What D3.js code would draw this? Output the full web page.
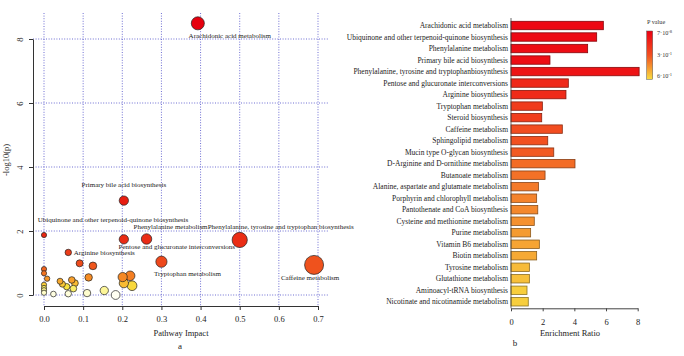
<!DOCTYPE html>
<html><head><meta charset="utf-8">
<script src="https://cdn.jsdelivr.net/npm/d3@7"></script>
<style>body{margin:0;background:#fff;}svg{display:block;font-family:"Liberation Serif","Times New Roman",serif;}</style>
</head><body><svg id="c" width="684" height="356"></svg>
<script>
// ---------- Panel a: pathway impact scatter ----------
const pathNames = ["Arachidonic acid metabolism","Primary bile acid biosynthesis","Ubiquinone and other terpenoid-quinone biosynthesis","Phenylalanine metabolism","Pentose and glucuronate interconversions","Phenylalanine, tyrosine and tryptophan biosynthesis","Arginine biosynthesis","Tryptophan metabolism","Caffeine metabolism",
 "","","","","","","","","","","","","","","","","","","","","","","","",""];
const pathImpact = [0.393,0.204,0.0,0.262,0.204,0.5,0.062,0.3,0.69,
 0.091,0.125,0.114,0.0,0.0,0.008,0.041,0.047,0.071,0.079,0.058,0.075,0.062,0.024,0.110,0.154,0.183,0.201,0.220,0.204,0.225,0.0,0.0,0.0,0.0];
const negLogP = [8.49,2.95,1.875,1.75,1.74,1.72,1.33,1.04,0.94,
 0.99,0.91,0.55,0.81,0.68,0.51,0.43,0.34,0.47,0.37,0.26,0.20,0.04,0.03,0.06,0.14,0.0,0.56,0.60,0.37,0.29,0.32,0.22,0.15,0.07];
const xTicksA = [0,0.1,0.2,0.3,0.4,0.5,0.6,0.7];
const yTicksA = [0,2,4,6,8];
// label offsets (layout) for labelled points
const labelOffsets = [[32,12.7],[0,-15.7],[69,-15],[24,-12.3],[53,7.4],[41,-13.3],[36,1],[26,12.3],[-4,13.3]];

// ---------- Panel b: enrichment bars ----------
const setNames = ["Arachidonic acid metabolism","Ubiquinone and other terpenoid-quinone biosynthesis","Phenylalanine metabolism","Primary bile acid biosynthesis","Phenylalanine, tyrosine and tryptophanbiosynthesis","Pentose and glucuronate interconversions","Arginine biosynthesis","Tryptophan metabolism","Steroid biosynthesis","Caffeine metabolism","Sphingolipid metabolism","Mucin type O-glycan biosynthesis","D-Arginine and D-ornithine metabolism","Butanoate metabolism","Alanine, aspartate and glutamate metabolism","Porphyrin and chlorophyll metabolism","Pantothenate and CoA biosynthesis","Cysteine and methionine metabolism","Purine metabolism","Vitamin B6 metabolism","Biotin metabolism","Tyrosine metabolism","Glutathione metabolism","Aminoacyl-tRNA biosynthesis","Nicotinate and nicotinamide metabolism"];
const enrichRatio = [5.83,5.41,4.84,2.46,8.09,3.62,3.47,1.98,1.94,3.24,2.32,2.70,4.04,2.15,1.73,1.62,1.69,1.47,1.24,1.79,1.62,1.16,1.16,1.01,1.09];
const pValue = [0.03,0.035,0.045,0.05,0.07,0.15,0.16,0.22,0.23,0.29,0.30,0.32,0.36,0.37,0.39,0.41,0.42,0.44,0.46,0.48,0.49,0.53,0.54,0.57,0.57];
const xTicksB = [0,2,4,6,8];

const svg = d3.select("#c");

// ===== Panel a =====
const xA = d3.scaleLinear().domain([0,0.7]).range([44,318]);
const yA = d3.scaleLinear().domain([0,8]).range([295,39]);
const rA = d3.scaleLinear().domain([0,0.7]).range([2.6,9.6]);
const colA = d3.scaleLinear().domain([0,0.1,0.25,0.4,0.6,1.0,2.0,8.5])
  .range(["#FFFFF2","#FFFCB8","#F8E640","#F8B030","#F47E22","#EE4A1C","#E82212","#E6000E"]);
const plotL=33, plotR=329, plotT=13, plotB=306;

const grid = svg.append("g").attr("stroke","#4a4ac8").attr("stroke-width",0.8).attr("stroke-dasharray","1,1.6");
grid.selectAll("line.v").data(xTicksA).join("line").attr("class","v")
  .attr("x1",d=>xA(d)).attr("x2",d=>xA(d)).attr("y1",plotT).attr("y2",plotB);
grid.selectAll("line.h").data(yTicksA).join("line").attr("class","h")
  .attr("x1",plotL).attr("x2",plotR).attr("y1",d=>yA(d)).attr("y2",d=>yA(d));

const pts = pathImpact.map((x,i)=>({x, y:negLogP[i], name:pathNames[i], i}));
const ptsSorted = pts.slice().sort((a,b)=>b.x-a.x);
svg.append("g").selectAll("circle").data(ptsSorted).join("circle")
  .attr("cx",d=>xA(d.x)).attr("cy",d=>yA(d.y)).attr("r",d=>rA(d.x))
  .attr("fill",d=>colA(d.y)).attr("stroke","#222").attr("stroke-width",0.7);

svg.append("g").selectAll("text").data(pts.filter(d=>d.name)).join("text")
  .attr("x",d=>xA(d.x)+labelOffsets[d.i][0]).attr("y",d=>yA(d.y)+labelOffsets[d.i][1])
  .attr("text-anchor","middle").attr("dominant-baseline","central")
  .attr("font-size",7).attr("fill","#222").text(d=>d.name);

const axA = svg.append("g").attr("transform",`translate(${plotL},0)`)
  .call(d3.axisLeft(yA).tickValues(yTicksA).tickSize(4).tickSizeOuter(0));
axA.selectAll(".tick text").attr("x",null).attr("y",null).attr("dy",null)
  .attr("transform","translate(-10,0) rotate(-90)").attr("text-anchor","middle");
const bxA = svg.append("g").attr("transform",`translate(0,${plotB})`)
  .call(d3.axisBottom(xA).tickValues(xTicksA).tickFormat(d3.format(".1f")).tickSize(4).tickSizeOuter(0).tickPadding(6));
[axA,bxA].forEach(g=>{g.selectAll("text").attr("font-size",8.5).attr("font-family","Liberation Serif").attr("fill","#222");
  g.selectAll("path,line").attr("stroke","#333");});

svg.append("text").attr("x",181).attr("y",336).attr("text-anchor","middle").attr("font-size",8.5).attr("fill","#222").text("Pathway Impact");
svg.append("text").attr("transform","translate(9,160) rotate(-90)").attr("text-anchor","middle").attr("font-size",8.5).attr("fill","#222").text("-log10(p)");
svg.append("text").attr("x",180).attr("y",349).attr("text-anchor","middle").attr("font-size",9).attr("fill","#222").text("a");

// ===== Panel b =====
const xB = d3.scaleLinear().domain([0,8]).range([511,637.7]);
const yB = d3.scaleBand().domain(setNames).range([18.2,309.1]).padding(0.27);
const colB = d3.scaleLinear().domain([0,0.3,0.6]).range(["#EC0012","#F25020","#F8DC40"]);

svg.append("g").selectAll("rect").data(setNames).join("rect")
  .attr("x",xB(0)).attr("y",d=>yB(d)).attr("height",yB.bandwidth())
  .attr("width",(d,i)=>xB(enrichRatio[i])-xB(0))
  .attr("fill",(d,i)=>colB(pValue[i]))
  .attr("stroke",(d,i)=>d3.color(colB(pValue[i])).darker(1.6)).attr("stroke-width",0.8);

svg.append("g").selectAll("text").data(setNames).join("text")
  .attr("x",508).attr("y",d=>yB(d)+yB.bandwidth()/2).attr("text-anchor","end").attr("dominant-baseline","central")
  .attr("font-size",7.5).attr("fill","#222").text(d=>d);

svg.append("line").attr("x1",511).attr("x2",511).attr("y1",18).attr("y2",308.3).attr("stroke","#444").attr("stroke-width",0.8);
const bxB = svg.append("g").attr("transform","translate(0,308.3)")
  .call(d3.axisBottom(xB).tickValues(xTicksB).tickSize(3).tickSizeOuter(0).tickPadding(8));
bxB.selectAll("text").attr("font-size",8.5).attr("font-family","Liberation Serif").attr("fill","#222");
bxB.selectAll("path,line").attr("stroke","#444");
svg.append("text").attr("x",570).attr("y",336).attr("text-anchor","middle").attr("font-size",8.5).attr("fill","#222").text("Enrichment Ratio");
svg.append("text").attr("x",515).attr("y",346).attr("text-anchor","middle").attr("font-size",9).attr("fill","#222").text("b");

// legend
const defs = svg.append("defs");
const lg = defs.append("linearGradient").attr("id","pg").attr("x1",0).attr("x2",0).attr("y1",0).attr("y2",1);
d3.range(0,1.0001,0.1).forEach(t=>lg.append("stop").attr("offset",t).attr("stop-color",colB(0.6*t)));
svg.append("text").attr("x",647).attr("y",24).attr("font-size",6.2).attr("fill","#333").text("P value");
svg.append("rect").attr("x",646.7).attr("y",31).attr("width",6).attr("height",48.3).attr("fill","url(#pg)").attr("stroke","#555").attr("stroke-width",0.5);
const legLabels = [["7·10","-8",33.3],["3·10","-1",55],["6·10","-1",76]];
legLabels.forEach(l=>{
  const t = svg.append("text").attr("x",657).attr("y",l[2]+2).attr("font-size",6.2).attr("fill","#333");
  t.append("tspan").text(l[0]);
  t.append("tspan").attr("dy",-2.5).attr("font-size",4.5).text(l[1]);
});
</script></body></html>
